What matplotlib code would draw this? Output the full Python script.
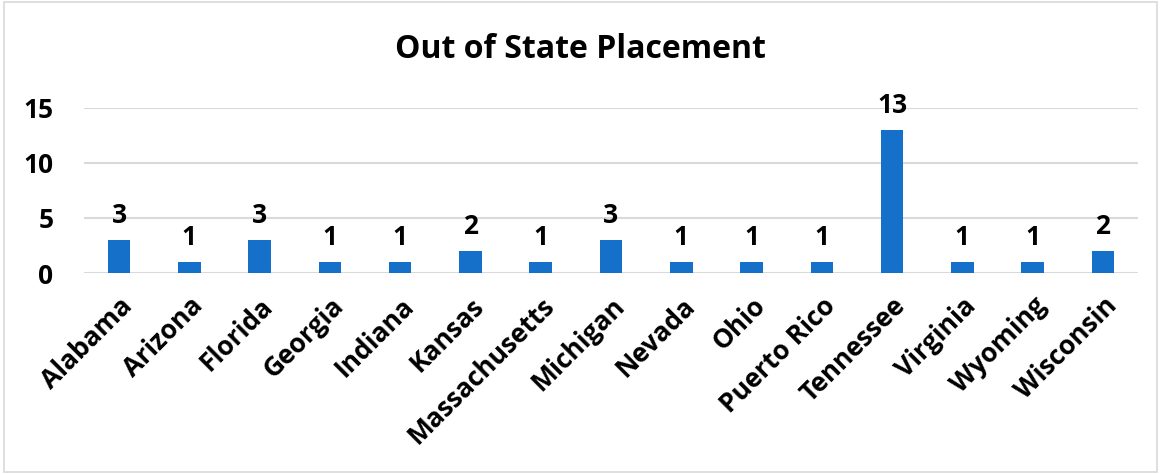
import matplotlib
matplotlib.use("Agg")
import matplotlib.pyplot as plt
from matplotlib.patches import Rectangle

states = ["Alabama", "Arizona", "Florida", "Georgia", "Indiana", "Kansas",
          "Massachusetts", "Michigan", "Nevada", "Ohio", "Puerto Rico",
          "Tennessee", "Virginia", "Wyoming", "Wisconsin"]
counts = [3, 1, 3, 1, 1, 2, 1, 3, 1, 1, 1, 13, 1, 1, 2]
yticks = [0, 5, 10, 15]

plt.rcParams['font.family'] = ['Open Sans', 'DejaVu Sans']
plt.rcParams['font.weight'] = 'bold'

fig = plt.figure(figsize=(11.61, 4.74), dpi=100)
ax = fig.add_axes([84/1161, 1-273/474, 1054/1161, 165/474])

x = list(range(len(states)))
bars = ax.bar(x, counts, width=0.32, color='#1470C8', zorder=3)
for xi, v in zip(x, counts):
    ax.annotate(str(v), (xi, v), xytext=(0, 8), textcoords='offset points',
                ha='center', va='bottom', fontsize=19, fontweight='bold')

ax.set_xlim(-0.5, len(states) - 0.5)
ax.set_ylim(0, 15)
ax.set_yticks(yticks)
ax.set_yticklabels([str(t) for t in yticks], fontsize=19, fontweight='bold')
ax.set_xticks(x)
ax.set_xticklabels(states, rotation=45, ha='right', rotation_mode='anchor',
                   fontsize=19, fontweight='bold')
ax.tick_params(axis='both', length=0)
ax.tick_params(axis='x', pad=14)
ax.tick_params(axis='y', pad=22)
ax.grid(axis='y', color='#D9D9D9', linewidth=1.5, zorder=0)
for s in ax.spines.values():
    s.set_visible(False)

fig.text(0.5, 1-50/474, "Out of State Placement", ha='center', va='center',
         fontsize=23, fontweight='bold')
fig.patches.append(Rectangle((4/1161, 2/474), 1153/1161, 470/474,
                             transform=fig.transFigure, fill=False,
                             edgecolor='#D9D9D9', linewidth=1.2))
fig.savefig("out.png", dpi=100)
